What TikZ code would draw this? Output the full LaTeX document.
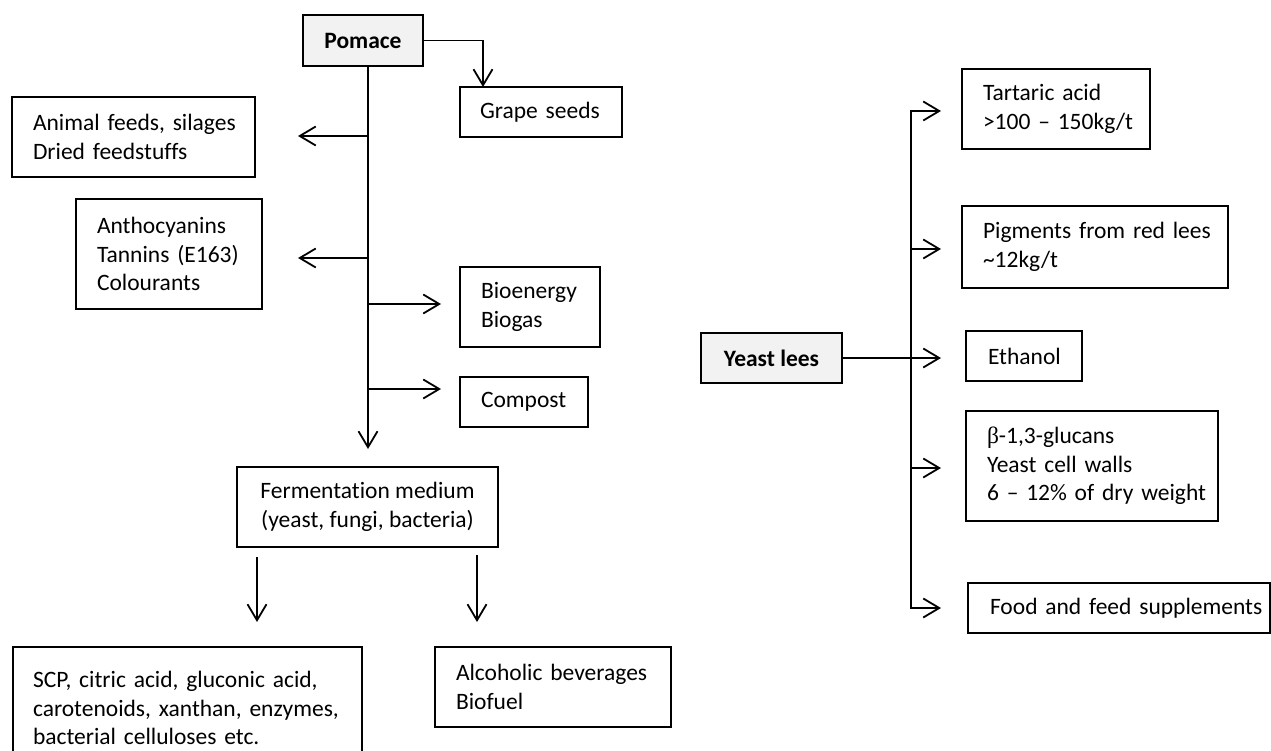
\documentclass[tikz,border=0pt]{standalone}
\usepackage{fontspec}
\setmainfont{Carlito}[Ligatures=NoCommon]
\newfontfamily\grk{Liberation Serif}
\usetikzlibrary{arrows.meta}
\definecolor{boxgray}{RGB}{242,242,242}
\begin{document}
\begin{tikzpicture}[x=1pt,y=-1pt,
  font=\fontsize{23.5}{28.5}\selectfont,
  box/.style={draw, line width=1.8pt, inner ysep=0pt, outer sep=0pt},
  lbox/.style={box, align=left},
  hbox/.style={box, align=center, fill=boxgray, font=\fontsize{23.5}{28.5}\selectfont\bfseries},
  arr/.style={line width=1.8pt, -{Straight Barb[length=16pt,width=19pt]}},
  arrs/.style={line width=1.8pt, {Straight Barb[length=16pt,width=19pt]}-{Straight Barb[length=16pt,width=19pt]}}
]
\useasboundingbox (0,0) rectangle (1271,751);

% ---- Pomace side ----
\node[hbox, minimum width=120pt, minimum height=51pt] (pomace) at (363,40.5) {Pomace};
\node[lbox, text width=122pt, inner xsep=20pt, minimum height=50pt] (grape) at (541,112) {\mbox{Grape seeds}};
\node[lbox, text width=201pt, inner xsep=21pt, minimum height=80pt] (animal) at (133.5,137) {\mbox{Animal feeds, silages}\\\mbox{Dried feedstuffs}};
\node[lbox, text width=144pt, inner xsep=21pt, minimum height=110pt] (antho) at (169,254) {\mbox{Anthocyanins}\\\mbox{Tannins (E163)}\\\mbox{Colourants}};
\node[lbox, text width=98pt, inner xsep=21pt, minimum height=80pt] (bio) at (530,307) {\mbox{Bioenergy}\\\mbox{Biogas}};
\node[lbox, text width=86pt, inner xsep=21pt, minimum height=50pt] (compost) at (524,402) {\mbox{Compost}};
\node[box, align=center, minimum width=261pt, minimum height=80pt] (ferm) at (367.5,507) {Fermentation medium\\(yeast, fungi, bacteria)};
\node[lbox, text width=309pt, inner xsep=20pt, minimum height=122pt] (scp) at (187.5,708) {\mbox{SCP, citric acid, gluconic acid,}\\\mbox{carotenoids, xanthan, enzymes,}\\\mbox{bacterial celluloses etc.}};
\node[lbox, text width=194pt, inner xsep=21pt, minimum height=80pt] (alco) at (553,687) {\mbox{Alcoholic beverages}\\\mbox{Biofuel}};

\coordinate (tk) at (368,66);
\coordinate (gx) at (483,0);
\draw[arr] (pomace.east) -| (gx |- grape.north);
\draw[arr, shorten >=18pt] (tk) -- (tk |- ferm.north);
\coordinate (l1) at (368,136);
\coordinate (l2) at (368,258);
\coordinate (r1) at (368,304);
\coordinate (r2) at (368,389);
\draw[arr, shorten >=43pt] (l1) -- (l1 -| animal.east);
\draw[arr, shorten >=36pt] (l2) -- (l2 -| antho.east);
\draw[arr, shorten >=19pt] (r1) -- (r1 -| bio.west);
\draw[arr, shorten >=19pt] (r2) -- (r2 -| compost.west);
\coordinate (f1) at (257,557);
\coordinate (f2) at (477,555);
\draw[arr, shorten >=25pt] (f1) -- (f1 |- scp.north);
\draw[arr, shorten >=25pt] (f2) -- (f2 |- alco.north);

% ---- Yeast lees side ----
\node[hbox, minimum width=141pt, minimum height=50pt] (yeast) at (771.5,358) {Yeast lees};
\node[lbox, text width=146pt, inner xsep=21pt, minimum height=80pt] (tart) at (1056,109) {\mbox{Tartaric acid}\\\mbox{>100 – 150kg/t}};
\node[lbox, text width=224pt, inner xsep=21pt, minimum height=82pt] (pig) at (1095,247) {\mbox{Pigments from red lees}\\\mbox{\textasciitilde 12kg/t}};
\node[lbox, text width=72pt, inner xsep=22pt, minimum height=50pt] (eth) at (1024,356) {\mbox{Ethanol}};
\node[lbox, text width=210pt, inner xsep=21pt, minimum height=110pt] (beta) at (1092,466) {\mbox{{\grk β}-1,3-glucans}\\\mbox{Yeast cell walls}\\\mbox{6 – 12\% of dry weight}};
\node[lbox, text width=258pt, inner xsep=22pt, minimum height=50pt] (food) at (1119,608) {\mbox{Food and feed supplements}};

\coordinate (ry1) at (911,111);
\coordinate (ry2) at (911,249);
\coordinate (ry4) at (911,468);
\coordinate (ry5) at (911,608);
\draw[arrs, shorten <=27pt, shorten >=21pt] (ry5 -| food.west) -- (ry5) -- (ry1) -- (ry1 -| tart.west);
\draw[arr, shorten >=21pt] (ry2) -- (ry2 -| pig.west);
\draw[arr, shorten >=25pt] (ry4) -- (ry4 -| beta.west);
\draw[arr, shorten >=25pt] (yeast.east) -- (yeast.east -| eth.west);
\end{tikzpicture}
\end{document}
